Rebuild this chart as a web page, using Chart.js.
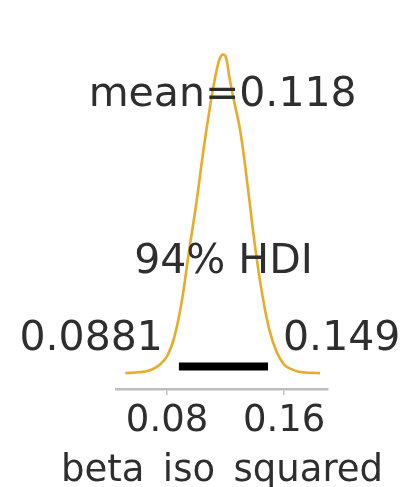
<!DOCTYPE html>
<html>
<head>
<meta charset="utf-8">
<script src="https://cdn.jsdelivr.net/npm/chart.js@4/dist/chart.umd.min.js"></script>
<style>
  html, body { margin: 0; padding: 0; background: #ffffff; }
  #wrap { width: 406px; height: 487px; }
</style>
</head>
<body>
<div id="wrap"><canvas id="c" width="406" height="487"></canvas></div>
<script>
// Posterior density (KDE) of beta_iso_squared
const kdeX = [0.0515, 0.055, 0.060, 0.065, 0.070, 0.075, 0.080, 0.085, 0.090, 0.095,
              0.100, 0.105, 0.110, 0.1125, 0.115, 0.1175, 0.1200, 0.1225, 0.125, 0.130,
              0.135, 0.140, 0.145, 0.150, 0.155, 0.160, 0.165, 0.170, 0.175, 0.180, 0.1846];
const kdeY = [0.00, 0.02, 0.06, 0.12, 0.30, 0.65, 1.30, 2.80, 5.50, 9.40,
              13.10, 17.30, 21.00, 22.60, 23.90, 24.55, 24.45, 22.90, 21.40, 18.70,
              14.50, 9.90, 6.10, 3.30, 1.60, 0.65, 0.30, 0.10, 0.05, 0.02, 0.00];

// Summary statistics
const meanValue = 0.118;
const hdiBounds = [0.0881, 0.149];
const hdiLabels = ["0.0881", "0.149"];
const hdiTitle = "94% HDI";
const meanLabel = "mean=0.118";

// Axis
const xTicks = [0.08, 0.16];
const xTickLabels = ["0.08", "0.16"];
const xRange = [0.0451, 0.190];
const varName = "beta_iso_squared";

const peak = Math.max(...kdeY);
const yTop = peak * 1.05;
const yBottom = -peak * 0.05;

const FONT = "'DejaVu Sans', 'Liberation Sans', sans-serif";
const TEXT_COLOR = "#2e2e2e";

// Text annotations placed in data coordinates (fractions of the plot height),
// plus the variable name centred under the x axis
const annotate = {
  id: 'annotate',
  afterDatasetsDraw(chart) {
    const { ctx, scales: { x, y } } = chart;
    const yAt = f => y.getPixelForValue(yTop * f);
    ctx.save();
    ctx.fillStyle = TEXT_COLOR;
    ctx.font = "41px " + FONT;
    ctx.textBaseline = 'alphabetic';

    ctx.textAlign = 'center';
    ctx.fillText(meanLabel, x.getPixelForValue(meanValue), yAt(0.8));
    ctx.fillText(hdiTitle, x.getPixelForValue((hdiBounds[0] + hdiBounds[1]) / 2), yAt(0.3));

    ctx.textAlign = 'right';
    ctx.fillText(hdiLabels[0], x.getPixelForValue(hdiBounds[0]) - 16, yAt(0.07));
    ctx.textAlign = 'left';
    ctx.fillText(hdiLabels[1], x.getPixelForValue(hdiBounds[1]) + 15, yAt(0.07));

    ctx.font = "37px " + FONT;
    ctx.textAlign = 'center';
    ctx.fillText(varName, (x.left + x.right) / 2, x.bottom - 6);
    ctx.restore();
  }
};

new Chart(document.getElementById('c'), {
  type: 'line',
  data: {
    datasets: [
      {
        data: kdeX.map((v, i) => ({ x: v, y: kdeY[i] })),
        borderColor: '#e8ab2c',
        borderWidth: 2.6,
        pointRadius: 0,
        tension: 0.4,
        fill: false
      },
      {
        data: hdiBounds.map(v => ({ x: v, y: yTop * 0.02 })),
        borderColor: '#000000',
        borderWidth: 8,
        borderCapStyle: 'butt',
        pointRadius: 0,
        fill: false
      }
    ]
  },
  options: {
    responsive: false,
    devicePixelRatio: 1,
    animation: false,
    layout: { padding: { left: 116, right: 78, top: 39, bottom: 0 } },
    plugins: { legend: { display: false }, tooltip: { enabled: false } },
    scales: {
      x: {
        type: 'linear',
        min: xRange[0],
        max: xRange[1],
        afterBuildTicks(scale) { scale.ticks = xTicks.map(v => ({ value: v })); },
        afterFit(scale) { scale.height = 98; },
        ticks: {
          callback: (v) => xTickLabels[xTicks.indexOf(v)] ?? '',
          font: { family: FONT, size: 37 },
          color: TEXT_COLOR,
          padding: 4,
          maxRotation: 0
        },
        grid: {
          drawOnChartArea: false,
          drawTicks: true,
          tickLength: 6,
          color: '#bdbdbd',
          lineWidth: 1.5
        },
        border: { display: true, color: '#bdbdbd', width: 2.5 },
        title: { display: false }
      },
      y: {
        display: false,
        min: yBottom,
        max: yTop
      }
    }
  },
  plugins: [annotate]
});
</script>
</body>
</html>
